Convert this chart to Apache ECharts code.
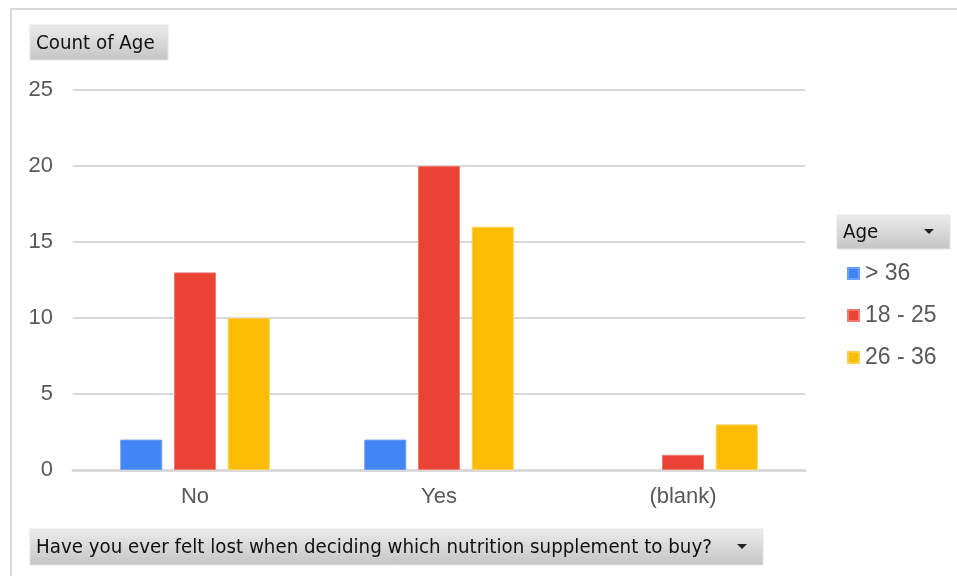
<!DOCTYPE html>
<html>
<head>
<meta charset="utf-8">
<script src="https://cdn.jsdelivr.net/npm/echarts@6/dist/echarts.min.js"></script>
<style>
  html, body { margin: 0; padding: 0; background: #fff; }
  #chart { width: 957px; height: 576px; }
</style>
</head>
<body>
<div id="chart"></div>
<script>
// Answers to the survey question, one group per answer
const categories = ['No', 'Yes', '(blank)'];
// Age brackets shown in the legend
const ageGroups = ['> 36', '18 - 25', '26 - 36'];
// Count of respondents per answer for each age bracket
const over36 = [2, 2, 0];
const age18to25 = [13, 20, 1];
const age26to36 = [10, 16, 3];
// Value axis ticks
const yMin = 0, yMax = 25, yStep = 5;

const seriesValues = [over36, age18to25, age26to36];
const colors = ['#4285F4', '#EA4335', '#FBBC04'];
const borders = ['#6aa0f7', '#f07a70', '#fccf50'];

const btnFont = '"DejaVu Sans Condensed", "DejaVu Sans", sans-serif';
const axisFont = '"Liberation Sans", Arial, sans-serif';

function buttonFill() {
  return new echarts.graphic.LinearGradient(0, 0, 0, 1, [
    { offset: 0, color: '#ececec' },
    { offset: 1, color: '#c4c4c4' }
  ]);
}

function fieldButton(x, y, w, h, label, withArrow) {
  const els = [{
    type: 'rect',
    shape: { x: x, y: y, width: w, height: h },
    style: { fill: buttonFill(), stroke: '#e4e4e4', lineWidth: 1 },
    z: 10
  }, {
    type: 'text',
    x: x + 6, y: y + h / 2 + 1,
    style: { text: label, font: '20.3px ' + btnFont, fill: '#111', verticalAlign: 'middle', align: 'left' },
    z: 11
  }];
  if (withArrow) {
    const ax = x + w - 21, ay = y + h / 2 - 1;
    els.push({
      type: 'polygon',
      shape: { points: [[ax - 5, ay - 2], [ax + 5, ay - 2], [ax, ay + 3]] },
      style: { fill: '#222' },
      z: 11
    });
  }
  return els;
}

// a zero count draws no bar, so it gets no outline either
function barData(values) {
  return values.map(v => v === 0 ? { value: v, itemStyle: { borderWidth: 0 } } : v);
}

const chart = echarts.init(document.getElementById('chart'));
chart.setOption({
  backgroundColor: '#fff',
  animation: false,
  grid: { left: 73, right: 152, top: 90, bottom: 106 },
  legend: {
    orient: 'vertical',
    left: 847, top: 262,
    padding: 0,
    icon: 'rect',
    itemWidth: 11, itemHeight: 11,
    itemGap: 19,
    data: ageGroups,
    textStyle: { fontSize: 23, lineHeight: 20, color: '#595959', fontFamily: axisFont, padding: [0, 0, 0, 1] }
  },
  xAxis: {
    type: 'category',
    data: categories,
    axisLine: { lineStyle: { color: '#d9d9d9', width: 3 } },
    axisTick: { show: false },
    axisLabel: { fontSize: 22, color: '#595959', fontFamily: axisFont, margin: 16 }
  },
  yAxis: {
    type: 'value',
    min: yMin, max: yMax, interval: yStep,
    axisLine: { show: false },
    axisTick: { show: false },
    splitLine: { lineStyle: { color: '#d9d9d9', width: 2 } },
    axisLabel: { fontSize: 22, color: '#595959', fontFamily: axisFont, margin: 20 }
  },
  series: ageGroups.map((name, i) => ({
    name: name,
    type: 'bar',
    data: barData(seriesValues[i]),
    barWidth: 42,
    barGap: '28%',
    itemStyle: { color: colors[i], borderColor: borders[i], borderWidth: 1 }
  })),
  graphic: [{
    type: 'rect',
    shape: { x: 11, y: 9, width: 980, height: 600 },
    style: { fill: 'none', stroke: '#d9d9d9', lineWidth: 2 },
    silent: true
  }]
    .concat(fieldButton(30, 25, 138, 35, 'Count of Age', false))
    .concat(fieldButton(837, 215, 113, 34, 'Age', true))
    .concat(fieldButton(30, 529, 733, 36, 'Have you ever felt lost when deciding which nutrition supplement to buy?', true))
});
</script>
</body>
</html>
